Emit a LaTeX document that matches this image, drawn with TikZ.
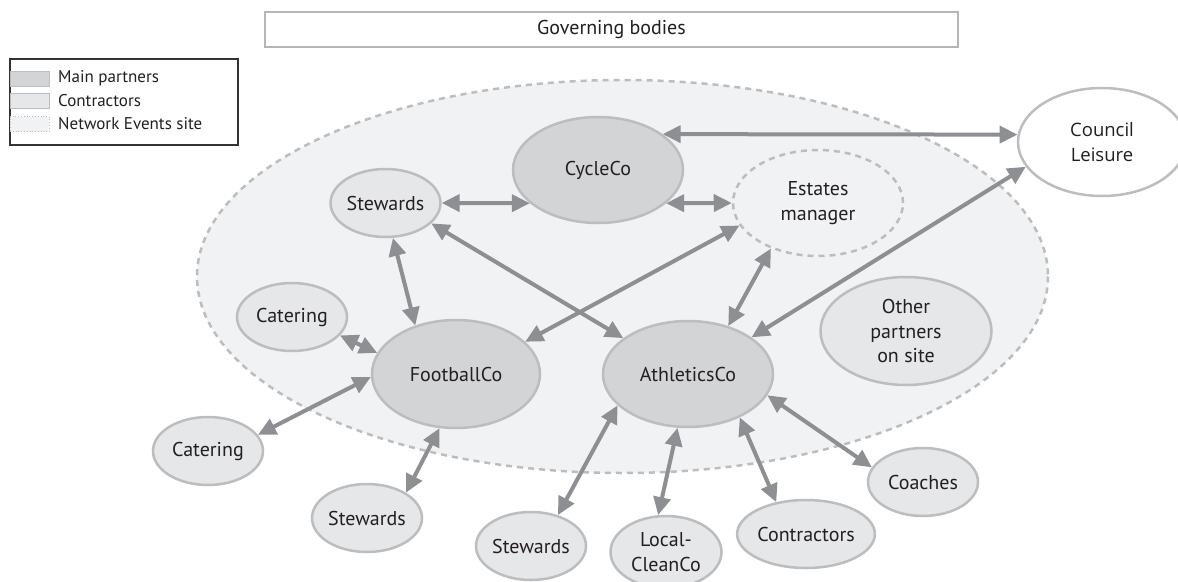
\documentclass[tikz,border=0pt]{standalone}
\usepackage{fontspec}
\setmainfont{PT Sans}
\newfontfamily\clfont{Open Sans}
\usetikzlibrary{arrows.meta,shapes.geometric}
\definecolor{mainc}{HTML}{D3D4D6}
\definecolor{contc}{HTML}{E6E7E8}
\definecolor{sitec}{HTML}{F1F2F4}
\definecolor{bordc}{HTML}{BCBDBF}
\definecolor{arrc}{HTML}{8E8F92}
\definecolor{txtc}{HTML}{231F20}
\definecolor{govc}{HTML}{B5B5B5}
\definecolor{legc}{HTML}{333333}
\tikzset{
  base/.style={ellipse, draw=bordc, line width=2.5pt, inner sep=0pt, text=txtc, align=center,
    font=\fontsize{20}{24.5}\selectfont},
  mainp/.style={base, fill=mainc, minimum width=170pt, minimum height=106pt},
  contr/.style={base, fill=contc, minimum width=110pt, minimum height=68pt},
  estates/.style={base, fill=sitec, dash pattern=on 6pt off 5pt, minimum width=170pt, minimum height=106pt},
  council/.style={base, fill=white, minimum width=168pt, minimum height=108pt,
    font=\clfont\fontsize{18.5}{25}\selectfont},
  conn/.style={draw=arrc, line width=4pt, <->, >={Triangle[length=18pt,width=17pt]}},
  swatch/.style={rectangle, inner sep=0pt, minimum width=39pt, minimum height=15pt},
  legtext/.style={anchor=west, inner sep=0pt, text=txtc, font=\fontsize{17}{20}\selectfont},
}
\begin{document}
\begin{tikzpicture}[x=1pt,y=-1pt]
\useasboundingbox (0,0) rectangle (1178,581);
% site
\draw[fill=sitec, draw=bordc, line width=2.5pt, dash pattern=on 6pt off 5pt] (622.5,276.5) ellipse [x radius=425.5, y radius=196.5];
% governing bodies
\node[rectangle, draw=govc, line width=2.5pt, fill=white, minimum width=693pt, minimum height=35pt, text=txtc,
  font=\fontsize{20}{23}\selectfont] (gb) at (611.5,29.5) {Governing bodies};
% legend
\node[rectangle, draw=legc, line width=1.3pt, minimum width=228pt, minimum height=86pt] (leg) at (124,102) {};
\node[swatch, fill=mainc, draw=bordc, line width=1pt] (lm) at (29.5,78.5) {};
\node[swatch, fill=contc, draw=bordc, line width=1pt] (lcn) at (29.5,100.5) {};
\node[swatch, fill=sitec, draw=bordc, line width=0.8pt, dotted] (ls) at (29.5,124) {};
\node[legtext] (tm) at (58,78) {Main partners};
\node[legtext] (tc) at (58,101) {Contractors};
\node[legtext] (ts) at (58,124) {Network Events site};
% nodes
\node[mainp] (cy) at (598,170) {CycleCo};
\node[estates] (em) at (818,203) {Estates\\manager};
\node[council] (cl) at (1102,142) {Council\\Leisure};
\node[contr, minimum width=109pt] (st1) at (385.5,203) {Stewards};
\node[contr] (ca1) at (292,317) {Catering};
\node[mainp, minimum width=168pt, minimum height=108pt] (fb) at (456,374) {FootballCo};
\node[mainp] (at) at (688,374) {AthleticsCo};
\node[contr, minimum width=171pt, minimum height=108pt] (op) at (906,331) {Other\\partners\\on site};
\node[contr] (ca2) at (208,451) {Catering};
\node[contr] (st2) at (367,518) {Stewards};
\node[contr] (st3) at (531,546) {Stewards};
\node[contr, minimum width=111pt, minimum height=72pt] (lc) at (666,552) {Local-\\CleanCo};
\node[contr] (co) at (806,534) {Contractors};
\node[contr] (cc) at (923,482) {Coaches};
% connectors
\draw[conn] (st1.east) -- (cy.206);
\draw[conn] (cy.334) -- (em.west);
\draw[conn] (cy.29) -- (cl.175);
\draw[conn] (st1.336) -- (at.151);
\draw[conn] (em.196) -- (fb.25);
\draw[conn] (em.224) -- (at.50);
\draw[conn] (cl.198) -- (at.30);
\draw[conn] (st1.282) -- (fb.130);
\draw[conn] (ca1.339) -- (fb.165);
\draw[conn] (ca2.18) -- (fb.182);
\draw[conn] (st2.33) -- (fb.253);
\draw[conn] (st3.49) -- (at.204);
\draw[conn] (lc.102) -- (at.259);
\draw[conn] (co.133) -- (at.320);
\draw[conn] (cc.164) -- (at.345);
\end{tikzpicture}
\end{document}
